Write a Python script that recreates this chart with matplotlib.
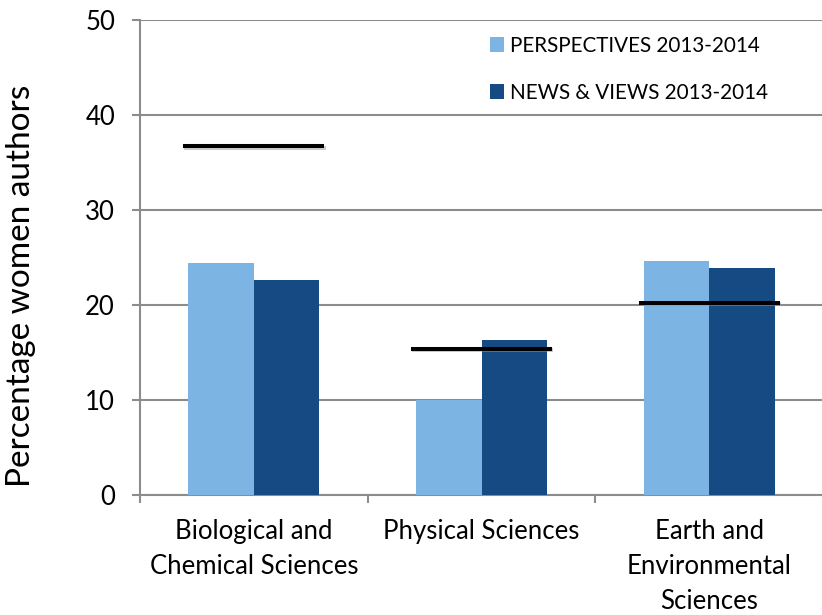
import numpy as np
import matplotlib
matplotlib.use('Agg')
import matplotlib.pyplot as plt
import matplotlib.patheffects as pe

plt.rcParams['font.family'] = ['Lato', 'DejaVu Sans']

categories = ['Biological and\nChemical Sciences', 'Physical Sciences',
              'Earth and\nEnvironmental\nSciences']
perspectives = [24.4, 10.0, 24.6]
news_views = [22.6, 16.3, 23.9]
benchmark = [36.7, 15.4, 20.2]
series_names = ['PERSPECTIVES 2013-2014', 'NEWS & VIEWS 2013-2014']

LIGHT = '#7cb4e3'
DARK = '#164a82'
GRID = '#8c8c8c'

fig = plt.figure(figsize=(8.22, 6.15), dpi=100)
ax = fig.add_axes([140 / 822, 1 - 495 / 615, 683 / 822, 475 / 615])

x = np.arange(len(categories))
w = 0.287
ax.bar(x - w / 2, perspectives, w, color=LIGHT, label=series_names[0], zorder=3)
ax.bar(x + w / 2, news_views, w, color=DARK, label=series_names[1], zorder=3)

# benchmark lines over each group
shadow = [pe.SimpleLineShadow(offset=(0.8, -1.0), shadow_color='#999999', alpha=0.5), pe.Normal()]
for i, v in enumerate(benchmark):
    ax.plot([x[i] - 0.31, x[i] + 0.31], [v, v], color='black', lw=2.9,
            solid_capstyle='butt', zorder=4, path_effects=shadow)

ax.set_xlim(-0.5, 2.5)
ax.set_ylim(0, 50)
ax.set_yticks(range(0, 51, 10))
ax.yaxis.grid(True, color=GRID, lw=1.5, zorder=0)
ax.set_axisbelow(True)

for s in ['top', 'right']:
    ax.spines[s].set_visible(False)
for s in ['left', 'bottom']:
    ax.spines[s].set_color(GRID)
    ax.spines[s].set_linewidth(1.5)

ax.set_xticks(x)
ax.set_xticklabels(categories, fontsize=18.5, linespacing=1.5)
ax.tick_params(axis='x', which='major', length=0, pad=17)
ax.set_xticks([-0.5, 0.5, 1.5, 2.5], minor=True)
ax.tick_params(axis='x', which='minor', length=6, width=1.5, color=GRID)
ax.tick_params(axis='y', length=6, width=1.5, color=GRID, labelsize=18.5, pad=12)

ax.set_ylabel('Percentage women authors', fontsize=24)
ax.yaxis.set_label_coords(-0.152, 0.44)

ax.legend(loc='upper left', bbox_to_anchor=(0.512, 0.967), frameon=False,
          fontsize=14.9, handlelength=0.7, handleheight=0.7,
          handletextpad=0.3, labelspacing=1.3, borderpad=0, borderaxespad=0)

fig.savefig('out.png', dpi=100, facecolor='white')
